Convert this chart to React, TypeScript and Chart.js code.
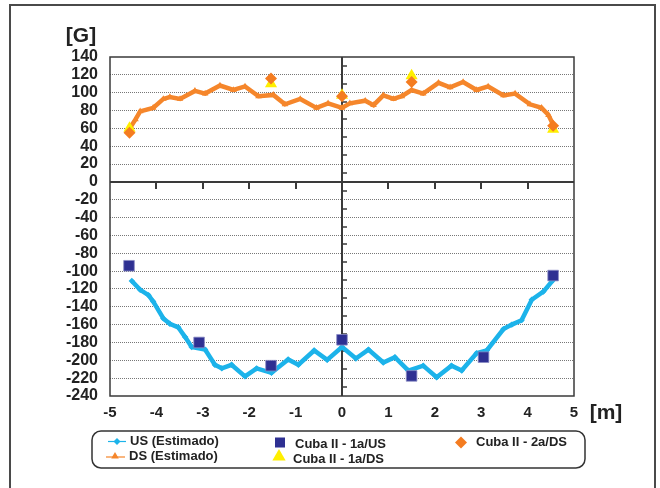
import React, { useEffect, useRef } from 'react';
import { Chart, registerables } from 'chart.js';
Chart.register(...registerables);

// DS (Estimado) curve
const dsX = [-4.55, -4.45, -4.35, -4.07, -3.85, -3.71, -3.49, -3.17, -2.95, -2.63, -2.34, -2.09, -1.80, -1.48, -1.23, -0.90, -0.55, -0.30, 0.0, 0.17, 0.50, 0.68, 0.89, 1.11, 1.29, 1.50, 1.75, 2.08, 2.33, 2.61, 2.90, 3.15, 3.48, 3.73, 4.05, 4.30, 4.45, 4.55];
const dsY = [62, 70, 79, 83, 93, 95, 93, 102, 99, 108, 103, 107, 96, 97.5, 87, 93, 83, 88, 83, 88, 91, 86, 97, 93, 96, 103, 99, 111, 106, 112, 103, 107, 97, 99, 87, 83, 75, 64];

// US (Estimado) curve
const usX = [-4.53, -4.35, -4.17, -4.07, -3.85, -3.71, -3.53, -3.38, -3.24, -2.95, -2.74, -2.59, -2.38, -2.09, -1.84, -1.52, -1.16, -0.94, -0.60, -0.32, 0.0, 0.30, 0.57, 0.89, 1.14, 1.43, 1.75, 2.04, 2.36, 2.58, 2.90, 3.12, 3.48, 3.66, 3.87, 4.09, 4.34, 4.55];
const usY = [-111, -121, -127, -134, -153, -159, -163, -174, -185, -188, -205, -209, -205, -218, -209, -214, -199, -205, -189, -199.5, -185, -198, -188, -202.5, -196.5, -211.5, -206, -219, -206, -211.5, -192, -189, -165, -160, -155, -132, -123, -110];

// Cuba II - 1a/US (squares)
const cubaUSX = [-4.59, -3.08, -1.53, 0.0, 1.5, 3.05, 4.55];
const cubaUSY = [-94, -180, -206, -177, -217.5, -196.5, -105];

// Cuba II - 1a/DS (triangles)
const cuba1DSX = [-4.58, -1.53, 0.0, 1.5, 4.55];
const cuba1DSY = [60, 110, 97, 119, 59];

// Cuba II - 2a/DS (diamonds)
const cuba2DSX = [-4.58, -1.53, 0.0, 1.5, 4.55];
const cuba2DSY = [55, 116, 96, 112, 63];

const xMin = -5, xMax = 5, xStep = 1;
const yMin = -240, yMax = 140, yStep = 20;

const legendLabels = ['US (Estimado)', 'DS (Estimado)', 'Cuba II - 1a/US', 'Cuba II - 1a/DS', 'Cuba II - 2a/DS'];

const C_US = '#1CB3EA';
const C_DS = '#F5862B';
const C_SQ = '#2E3092';
const C_TRI = '#FFEF00';
const C_DIA = '#F47C20';
const FONT = '"Liberation Sans", Arial, sans-serif';

const zip = (xs: number[], ys: number[]) => xs.map((x, i) => ({ x, y: ys[i] }));

function drawTri(ctx: CanvasRenderingContext2D, x: number, y: number, r: number, c: string) {
  ctx.beginPath();
  ctx.moveTo(x, y - r);
  ctx.lineTo(x + r * 0.95, y + r * 0.65);
  ctx.lineTo(x - r * 0.95, y + r * 0.65);
  ctx.closePath();
  ctx.fillStyle = c;
  ctx.fill();
}
function drawDia(ctx: CanvasRenderingContext2D, x: number, y: number, r: number, c: string) {
  ctx.beginPath();
  ctx.moveTo(x, y - r);
  ctx.lineTo(x + r, y);
  ctx.lineTo(x, y + r);
  ctx.lineTo(x - r, y);
  ctx.closePath();
  ctx.fillStyle = c;
  ctx.fill();
}

const axesPlugin = {
  id: 'customAxes',
  beforeDatasetsDraw(chart: any) {
    const { ctx, chartArea: a, scales } = chart;
    const xs = scales.x, ys = scales.y;
    const y0 = ys.getPixelForValue(0);
    const x0 = xs.getPixelForValue(0);
    ctx.save();
    ctx.strokeStyle = '#3a3a3a';
    ctx.lineWidth = 2;
    ctx.beginPath();
    ctx.moveTo(a.left, y0);
    ctx.lineTo(a.right, y0);
    ctx.moveTo(x0, a.top);
    ctx.lineTo(x0, a.bottom);
    for (let v = xMin + xStep; v < xMax; v += xStep) {
      if (v === 0) continue;
      const px = Math.round(xs.getPixelForValue(v));
      ctx.moveTo(px, y0);
      ctx.lineTo(px, y0 + 7);
    }
    ctx.stroke();
    ctx.lineWidth = 1.5;
    ctx.beginPath();
    for (let v = yMax - yStep / 2; v > yMin; v -= yStep) {
      const py = Math.round(ys.getPixelForValue(v));
      ctx.moveTo(x0, py);
      ctx.lineTo(x0 + 5, py);
    }
    ctx.stroke();
    ctx.lineWidth = 1.5;
    ctx.strokeRect(a.left, a.top, a.right - a.left, a.bottom - a.top);
    ctx.restore();
  },
  afterDraw(chart: any) {
    const { ctx } = chart;
    ctx.save();
    // outer frame
    ctx.strokeStyle = '#4a4a4a';
    ctx.lineWidth = 2;
    ctx.strokeRect(10, 5, 645, 520);
    // unit labels
    ctx.fillStyle = '#222';
    ctx.font = `bold 21px ${FONT}`;
    ctx.textAlign = 'center';
    ctx.textBaseline = 'middle';
    ctx.fillText('[G]', 81, 36);
    ctx.fillText('[m]', 606, 413);
    // legend box
    const lx = 92, ly = 431, lw = 493, lh = 37, r = 9;
    ctx.beginPath();
    ctx.moveTo(lx + r, ly);
    ctx.arcTo(lx + lw, ly, lx + lw, ly + lh, r);
    ctx.arcTo(lx + lw, ly + lh, lx, ly + lh, r);
    ctx.arcTo(lx, ly + lh, lx, ly, r);
    ctx.arcTo(lx, ly, lx + lw, ly, r);
    ctx.closePath();
    ctx.fillStyle = '#fff';
    ctx.fill();
    ctx.strokeStyle = '#333';
    ctx.lineWidth = 1.5;
    ctx.stroke();
    // legend entries
    ctx.lineWidth = 1.2;
    ctx.strokeStyle = C_US;
    ctx.beginPath(); ctx.moveTo(108, 441.5); ctx.lineTo(126, 441.5); ctx.stroke();
    drawDia(ctx, 117, 441.5, 3.5, C_US);
    ctx.strokeStyle = C_DS;
    ctx.beginPath(); ctx.moveTo(106, 457); ctx.lineTo(125, 457); ctx.stroke();
    drawTri(ctx, 115, 456, 4, C_DS);
    ctx.fillStyle = C_SQ;
    ctx.fillRect(275, 437.5, 10, 10);
    drawTri(ctx, 279, 456, 7, C_TRI);
    drawDia(ctx, 461, 442.5, 6, C_DIA);
    ctx.fillStyle = '#222';
    ctx.font = `bold 13px ${FONT}`;
    ctx.textAlign = 'left';
    ctx.fillText(legendLabels[0], 130, 441.5);
    ctx.fillText(legendLabels[1], 129, 456.5);
    ctx.fillText(legendLabels[2], 295, 444);
    ctx.fillText(legendLabels[3], 293, 459);
    ctx.fillText(legendLabels[4], 476, 442.5);
    ctx.restore();
  },
};

export default function App() {
  const ref = useRef<HTMLCanvasElement>(null);
  useEffect(() => {
    const chart = new Chart(ref.current as HTMLCanvasElement, {
      type: 'scatter',
      data: {
        datasets: [
          {
            label: legendLabels[4], data: zip(cuba2DSX, cuba2DSY), order: 0,
            pointStyle: 'rectRot', pointRadius: 6, backgroundColor: C_DIA, borderColor: C_DIA, borderWidth: 0, showLine: false,
          },
          {
            label: legendLabels[3], data: zip(cuba1DSX, cuba1DSY), order: 1,
            pointStyle: 'triangle', pointRadius: 7, backgroundColor: C_TRI, borderColor: C_TRI, borderWidth: 0, showLine: false,
          },
          {
            label: legendLabels[2], data: zip(cubaUSX, cubaUSY), order: 2,
            pointStyle: 'rect', pointRadius: 7.5, backgroundColor: C_SQ, borderColor: '#8a8cc4', borderWidth: 0.8, showLine: false,
          },
          {
            label: legendLabels[0], data: zip(usX, usY), order: 3,
            showLine: true, borderColor: C_US, borderWidth: 4.5, backgroundColor: C_US,
            pointStyle: 'rectRot', pointRadius: 3.2, pointBorderWidth: 0,
          },
          {
            label: legendLabels[1], data: zip(dsX, dsY), order: 4,
            showLine: true, borderColor: C_DS, borderWidth: 4.5, backgroundColor: C_DS,
            pointStyle: 'triangle', pointRadius: 3.8, pointBorderWidth: 0,
          },
        ],
      },
      options: {
        responsive: false,
        animation: false,
        layout: { padding: { left: 0, top: 57, right: 86, bottom: 0 } },
        plugins: { legend: { display: false }, tooltip: { enabled: false } },
        scales: {
          x: {
            type: 'linear', min: xMin, max: xMax,
            ticks: { stepSize: xStep, autoSkip: false, maxRotation: 0, color: '#222', padding: 8, font: { family: FONT, size: 15, weight: 'bold' } },
            grid: { display: false, drawTicks: false },
            border: { display: false },
            afterFit: (s: any) => { s.height = 92; },
          },
          y: {
            type: 'linear', min: yMin, max: yMax,
            ticks: { stepSize: yStep, autoSkip: false, color: '#222', padding: 12, font: { family: FONT, size: 16, weight: 'bold' } },
            grid: {
              drawTicks: false, lineWidth: 1,
              color: (c: any) => (c.tick && (c.tick.value === 0 || c.tick.value === yMax || c.tick.value === yMin) ? 'rgba(0,0,0,0)' : '#777'),
            },
            border: { display: false, dash: [1, 1] },
            afterFit: (s: any) => { s.width = 110; },
          },
        },
      } as any,
      plugins: [axesPlugin],
    });
    return () => chart.destroy();
  }, []);
  return (
    <div style={{ position: 'absolute', left: 0, top: 0, width: 660, height: 488, background: '#fff' }}>
      <canvas ref={ref} width={660} height={488} />
    </div>
  );
}
